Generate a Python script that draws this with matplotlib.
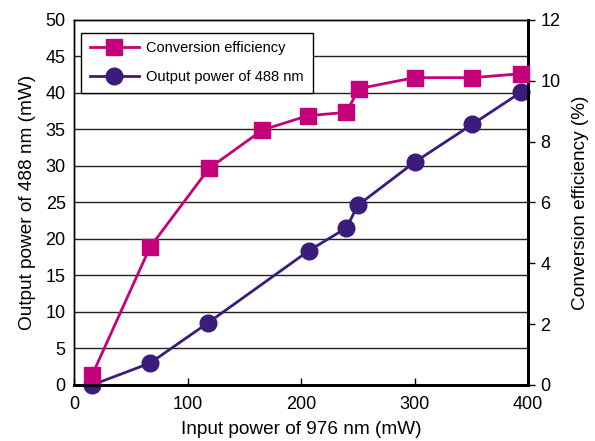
import matplotlib
matplotlib.use("Agg")
import matplotlib.pyplot as plt

plt.rcParams['font.family'] = ['Liberation Sans', 'DejaVu Sans']

# Data
eff_x = [16, 67, 119, 166, 206, 240, 251, 300, 351, 394]
eff_y = [0.33, 4.53, 7.12, 8.38, 8.85, 8.96, 9.74, 10.1, 10.1, 10.23]
pow_x = [16, 67, 118, 207, 240, 250, 300, 351, 394]
pow_y = [0.0, 3.0, 8.5, 18.4, 21.5, 24.6, 30.5, 35.7, 40.1]

x_ticks = [0, 100, 200, 300, 400]
left_ticks = list(range(0, 55, 5))
right_ticks = list(range(0, 14, 2))

magenta = '#C5007B'
purple = '#3B1C7A'

fig = plt.figure(figsize=(5.95, 4.41), dpi=100)
ax = fig.add_axes([0.1244, 0.127, 0.763, 0.828])
ax2 = ax.twinx()

ax.set_xlim(0, 400)
ax.set_ylim(0, 50)
ax2.set_ylim(0, 12)

for v in left_ticks[1:-1]:
    ax.axhline(v, color='#222222', lw=1.0, zorder=1)

l2, = ax.plot(pow_x, pow_y, color=purple, lw=2, marker='o', ms=12,
              label='Output power of 488 nm', clip_on=False, zorder=3)
l1, = ax2.plot(eff_x, eff_y, color=magenta, lw=2, marker='s', ms=11,
               label='Conversion efficiency', clip_on=False, zorder=3)

ax.set_xticks(x_ticks)
ax.set_yticks(left_ticks)
ax2.set_yticks(right_ticks)
ax.tick_params(axis='x', direction='in', length=5, width=1, labelsize=13, pad=8)
ax.tick_params(axis='y', direction='in', length=0, labelsize=13, pad=6)
ax2.tick_params(axis='y', direction='out', length=5, width=1, labelsize=13, pad=4)

for a in (ax, ax2):
    a.spines['top'].set_linewidth(1.0)
    a.spines['left'].set_linewidth(1.0)
    a.spines['bottom'].set_linewidth(2.0)
    a.spines['right'].set_linewidth(2.0)

ax.set_xlabel('Input power of 976 nm (mW)', fontsize=13.7, labelpad=6)
ax.set_ylabel('Output power of 488 nm (mW)', fontsize=13.7, labelpad=7)
ax2.set_ylabel('Conversion efficiency (%)', fontsize=13.7, labelpad=8)

ax2.set_zorder(ax.get_zorder() + 1)
ax2.patch.set_visible(False)

leg = ax2.legend(handles=[l1, l2], loc='upper left', bbox_to_anchor=(0.015, 0.965),
                 fontsize=10.5, frameon=True, fancybox=False, edgecolor='black',
                 handlelength=3.4, borderpad=0.6, labelspacing=1.0, handletextpad=0.5,
                 borderaxespad=0)
leg.get_frame().set_linewidth(1.0)
leg.get_frame().set_alpha(1)

fig.savefig('out.png', dpi=100)
